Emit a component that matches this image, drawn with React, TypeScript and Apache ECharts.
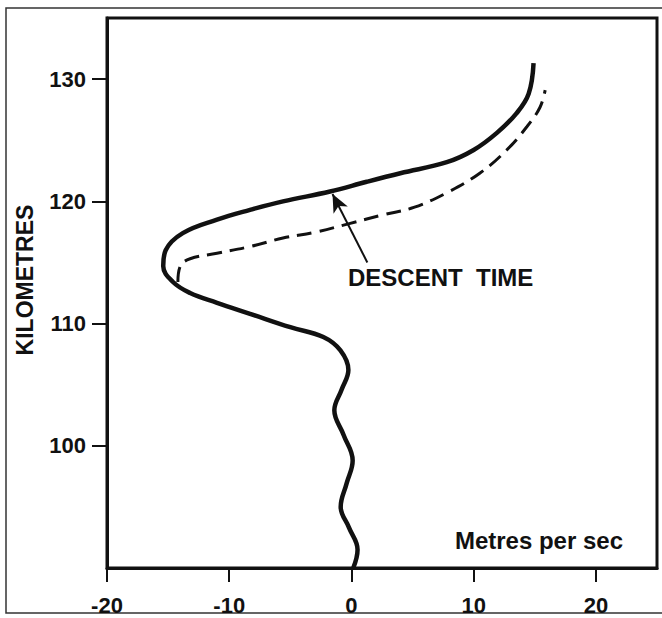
import React, { useEffect, useRef } from "react";
import * as echarts from "echarts";

// Solid curve: vertical wind speed (m/s) vs altitude (km)
const solidVelocity = [0.15, 0.5, -0.2, -0.88, -0.4, 0.1, -0.65, -1.4, -0.8, -0.25, -0.9, -2.3, -5.0, -8.3, -11.0, -13.2, -14.6, -15.4, -15.2, -13.8, -11.0, -8.3, -5.6, -1.75, 1.25, 4.0, 7.8, 10.0, 11.9, 13.5, 14.5, 14.9];
const solidAltitude = [90.0, 91.5, 93.3, 95.0, 96.9, 98.8, 100.9, 102.9, 104.6, 106.2, 107.8, 108.9, 109.7, 110.8, 111.7, 112.5, 113.4, 114.7, 116.0, 117.4, 118.5, 119.3, 120.0, 120.8, 121.6, 122.3, 123.2, 124.2, 125.6, 127.2, 128.8, 131.3];

// Dashed curve: descent time profile
const dashedVelocity = [-14.2, -14.0, -13.2, -11.0, -8.3, -5.6, -2.84, -0.1, 2.6, 5.1, 7.8, 10.5, 12.7, 14.35, 15.43, 15.85];
const dashedAltitude = [113.4, 114.7, 115.3, 115.75, 116.3, 117.0, 117.5, 118.2, 118.9, 119.5, 120.7, 122.3, 124.2, 126.1, 127.7, 129.1];

// Annotation arrow (data coords)
const arrowFrom = [1.3, 115.0];
const arrowTo = [-1.55, 120.6];

const FONT = '"Liberation Sans", Arial, Helvetica, sans-serif';

export default function App() {
  const ref = useRef<HTMLDivElement>(null);
  useEffect(() => {
    if (!ref.current) return;
    const chart = echarts.init(ref.current, undefined, { renderer: "svg" });
    const ink = "#111";
    chart.setOption({
      animation: false,
      backgroundColor: "#fff",
      grid: {
        left: 107,
        right: 5,
        top: 18,
        bottom: 50,
        show: true,
        borderColor: ink,
        borderWidth: 3,
        backgroundColor: "transparent",
      },
      xAxis: {
        type: "value",
        min: -20,
        max: 25,
        interval: 10,
        splitLine: { show: false },
        axisLine: { show: true, onZero: false, lineStyle: { color: ink, width: 3 } },
        axisTick: { show: true, length: 14, lineStyle: { color: ink, width: 2 } },
        axisLabel: {
          showMaxLabel: false,
          margin: 26,
          color: ink,
          fontSize: 22,
          fontWeight: "bold",
          fontFamily: FONT,
        },
      },
      yAxis: {
        type: "value",
        min: 90,
        max: 135,
        interval: 10,
        splitLine: { show: false },
        axisLine: { show: true, onZero: false, lineStyle: { color: ink, width: 3 } },
        axisTick: { show: true, length: 15, lineStyle: { color: ink, width: 2 } },
        axisLabel: {
          showMinLabel: false,
          showMaxLabel: false,
          margin: 21,
          color: ink,
          fontSize: 22,
          fontWeight: "bold",
          fontFamily: FONT,
        },
      },
      series: [
        {
          type: "line",
          name: "solid",
          data: solidVelocity.map((v, i) => [v, solidAltitude[i]]),
          smooth: 0.4,
          showSymbol: false,
          lineStyle: { color: ink, width: 4.5 },
          silent: true,
        },
        {
          type: "line",
          name: "dashed",
          data: dashedVelocity.map((v, i) => [v, dashedAltitude[i]]),
          smooth: 0.4,
          showSymbol: false,
          lineStyle: { color: ink, width: 3, type: [15, 8] },
          silent: true,
          markLine: {
            silent: true,
            symbol: ["none", "arrow"],
            symbolSize: [12, 18],
            label: { show: false },
            lineStyle: { color: ink, width: 2, type: "solid" },
            data: [[{ coord: arrowFrom }, { coord: arrowTo }]],
          },
        },
      ],
      graphic: [
        {
          type: "rect",
          shape: { x: 6, y: 8, width: 660, height: 605 },
          style: { fill: "none", stroke: "#333", lineWidth: 1.5 },
          silent: true,
        },
        {
          type: "text",
          x: 25,
          y: 280,
          rotation: Math.PI / 2,
          style: {
            text: "KILOMETRES",
            fill: ink,
            fontSize: 23,
            fontWeight: "bold",
            fontFamily: FONT,
            textAlign: "center",
            textVerticalAlign: "middle",
          },
        },
        {
          type: "text",
          x: 623,
          y: 540,
          style: {
            text: "Metres per sec",
            fill: ink,
            fontSize: 24,
            fontWeight: "bold",
            fontFamily: FONT,
            textAlign: "right",
            textVerticalAlign: "middle",
          },
        },
        {
          type: "text",
          x: 348,
          y: 277,
          style: {
            text: "DESCENT  TIME",
            fill: ink,
            fontSize: 24,
            fontWeight: "bold",
            fontFamily: FONT,
            textAlign: "left",
            textVerticalAlign: "middle",
          },
        },
      ],
    });
    return () => chart.dispose();
  }, []);
  return <div ref={ref} style={{ width: 662, height: 618, position: "absolute", left: 0, top: 0 }} />;
}
